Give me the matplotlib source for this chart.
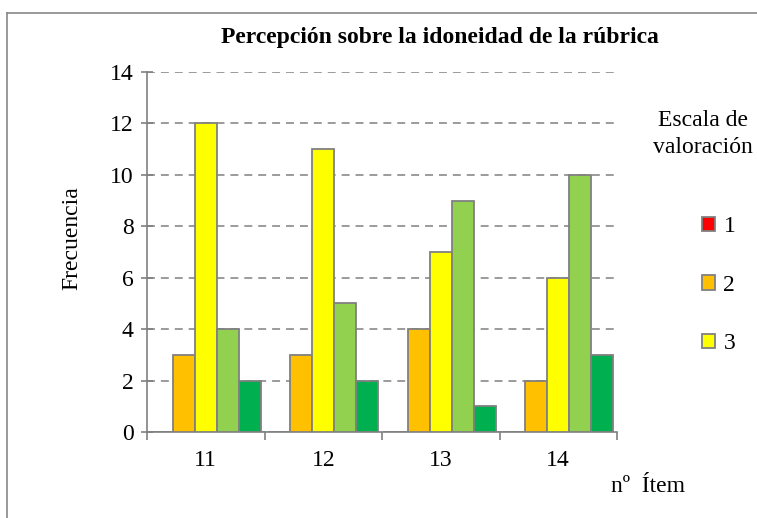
import matplotlib.pyplot as plt
from matplotlib.patches import Patch
import numpy as np

# === Data ===
items = ['11', '12', '13', '14']
scale_labels = ['1', '2', '3', '4', '5']
val_1 = [0, 0, 0, 0]
val_2 = [3, 3, 4, 2]
val_3 = [12, 11, 7, 6]
val_4 = [4, 5, 9, 10]
val_5 = [2, 2, 1, 3]
series = [val_1, val_2, val_3, val_4, val_5]
colors = ['#FF0000', '#FFC000', '#FFFF00', '#92D050', '#00B050']

plt.rcParams['font.family'] = ['Liberation Serif', 'DejaVu Serif']
FS = 17

fig = plt.figure(figsize=(7.57, 5.18), dpi=100)
ax = fig.add_axes([147 / 757, 1 - 432 / 518, 470 / 757, 360 / 518])

# outer chart border (left and top visible)
fig.add_artist(plt.Line2D([7 / 757, 7 / 757], [0, 1 - 13 / 518], color='#888888', lw=1.2))
fig.add_artist(plt.Line2D([7 / 757, 1], [1 - 13 / 518, 1 - 13 / 518], color='#888888', lw=1.2))

x = np.arange(1, len(items) + 1)
w = 0.187
for i, (vals, c) in enumerate(zip(series, colors)):
    ax.bar(x + (i - 2) * w, vals, width=w, color=c, edgecolor='#808080',
           linewidth=1.3, zorder=3)

ax.set_xlim(0.5, 4.5)
ax.set_ylim(0, 14)
ax.set_yticks(range(0, 15, 2))
ax.yaxis.grid(True, linestyle=(0, (5.2, 3.9)), color='#808080', linewidth=1.1)
ax.set_axisbelow(True)

ax.set_xticks(x)
ax.set_xticklabels(items)
ax.set_xticks(np.arange(0.5, 4.6, 1), minor=True)
ax.tick_params(axis='x', which='major', length=0, pad=13, labelsize=FS)
ax.tick_params(axis='x', which='minor', length=6, color='#808080', width=1.2)
ax.tick_params(axis='y', direction='inout', length=9, color='#808080', width=1.2,
               labelsize=FS, pad=5)

for s in ['top', 'right']:
    ax.spines[s].set_visible(False)
for s in ['left', 'bottom']:
    ax.spines[s].set_color('#808080')
    ax.spines[s].set_linewidth(1.2)

fig.text(72 / 757, 1 - 238 / 518, 'Frecuencia', rotation=90, ha='center', va='center',
         fontsize=FS)
fig.text(440 / 757, 1 - 38 / 518, 'Percepción sobre la idoneidad de la rúbrica',
         ha='center', va='center', fontsize=FS, fontweight='bold')
fig.text(648 / 757, 1 - 487 / 518, 'nº  Ítem', ha='center', va='center', fontsize=FS)

# legend (only the first three entries fit in the chart area)
fig.text(703 / 757, 1 - 134 / 518, 'Escala de\nvaloración', ha='center', va='center',
         fontsize=FS, linespacing=1.35)
handles = [Patch(facecolor=c, edgecolor='#808080', linewidth=1.3) for c in colors[:3]]
fig.legend(handles, scale_labels[:3], loc='upper left',
           bbox_to_anchor=(681 / 757, 1 - 195 / 518), frameon=False, fontsize=FS,
           labelspacing=1.59, handlelength=0.55, handleheight=0.55, handletextpad=0.35)

plt.savefig('out.png', dpi=100)
